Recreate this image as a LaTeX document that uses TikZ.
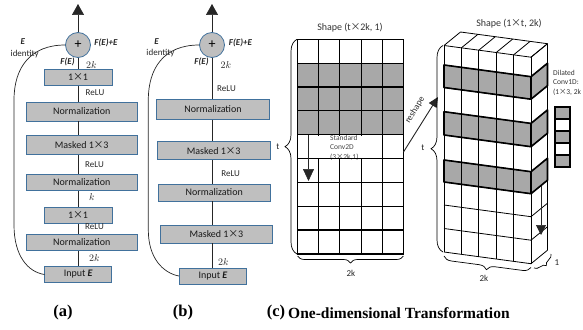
\documentclass[tikz,border=0pt]{standalone}
\usepackage{fontspec}
\newfontfamily\calfont{Carlito}
\newfontfamily\cjkfont{Noto Sans CJK SC}
\newfontfamily\capfont{Liberation Serif}
\usetikzlibrary{arrows.meta,decorations.pathreplacing,calc}
\definecolor{boxgray}{RGB}{191,191,191}
\definecolor{boxblue}{RGB}{65,113,156}
\definecolor{cgray}{RGB}{168,168,168}
\definecolor{txtgray}{RGB}{70,70,70}
\newcommand{\mx}{\makebox[0.95em]{\cjkfont ×}}
\tikzset{
 blk/.style={draw=boxblue, fill=boxgray, line width=0.7pt, inner sep=0pt, font=\calfont\fontsize{10}{12}\selectfont, text=black!90},
 plusnode/.style={circle, draw=boxblue, fill=boxgray, line width=0.8pt, minimum size=25pt, inner sep=0pt, font=\calfont\fontsize{14}{14}\selectfont},
 conn/.style={line width=0.7pt, draw=black!85},
 bigarrow/.style={conn, -{Triangle[width=12pt,length=11pt]}},
 lbl/.style={inner sep=0pt, font=\calfont\fontsize{9}{11}\selectfont, text=black!85},
 mlbl/.style={inner sep=0pt, font=\fontsize{10}{12}\selectfont, text=black!85},
 shapelbl/.style={inner sep=0pt, font=\calfont\fontsize{10}{12}\selectfont, text=black!80},
 smalltxt/.style={inner sep=0pt, font=\calfont\fontsize{7.5}{9.5}\selectfont, text=txtgray},
 gcolline/.style={line width=1pt},
 growline/.style={line width=1.2pt},
 gouterline/.style={line width=1.5pt},
 thinl/.style={line width=0.8pt},
 thickl/.style={line width=1.6pt},
 brc/.style={line width=0.7pt, decorate},
 capl/.style={inner sep=0pt, font=\capfont\bfseries\fontsize{16.5}{18}\selectfont},
 capt/.style={inner sep=0pt, font=\capfont\bfseries\fontsize{15.5}{18}\selectfont},
 dbox/.style={draw=black, line width=1.4pt, minimum width=15pt, minimum height=12pt, inner sep=0pt},
}
\begin{document}
\begin{tikzpicture}[x=1pt,y=-1pt]
\useasboundingbox (0,0) rectangle (583,329);

% ================= (a) =================
\node[plusnode] (ap) at (78,45) {+};
\coordinate (atip) at (78,4);
\draw[bigarrow] (ap.north) -- (atip);
\node[blk, minimum width=68pt, minimum height=16pt] (a1) at (78,77.5) {1\mx1};
\node[blk, minimum width=111pt, minimum height=19pt] (a2) at (81.7,111.5) {Normalization};
\node[blk, minimum width=111pt, minimum height=19pt] (a3) at (81.7,145) {Masked 1\mx3};
\node[blk, minimum width=111pt, minimum height=16.5pt] (a4) at (81.7,182.5) {Normalization};
\node[blk, minimum width=68pt, minimum height=16.5pt] (a5) at (78,215.5) {1\mx1};
\node[blk, minimum width=111pt, minimum height=16.5pt] (a6) at (81.7,242.5) {Normalization};
\node[blk, minimum width=67pt, minimum height=16.5pt] (a7) at (78.3,274.5) {Input \textbf{\textit{E}}};
\draw[conn] (ap.south) -- (a1.north -| ap);
\foreach \u/\v in {a1/a2,a2/a3,a3/a4,a4/a5,a5/a6,a6/a7}
  \draw[conn] (\u.south -| ap) -- (\v.north -| ap);
\draw[conn] (ap.west) .. controls (30,45) and (14,68) .. (14,100) -- (14,225)
  .. controls (14,256) and (28,272) .. (a7.west);
\node[lbl] (aE) at (23,42) {\textbf{\textit{E}}};
\node[lbl] (aid) at (24.7,54.5) {identity};
\node[lbl] (aFE) at (106,43.3) {\textbf{\textit{F(E)+E}}};
\node[lbl] (aF) at (67.5,61.7) {\textbf{\textit{F(E)}}};
\node[mlbl] (a2k) at (91.5,65) {$2k$};
\node[lbl] (ar1) at (95,93) {ReLU};
\node[lbl] (ar2) at (94.5,165) {ReLU};
\node[mlbl] (ak) at (92,197) {$k$};
\node[lbl] (ar3) at (94.5,227) {ReLU};
\node[mlbl] (a2kb) at (94.5,258) {$2k$};

% ================= (b) =================
\node[plusnode] (bp) at (212,45) {+};
\coordinate (btip) at (212,4);
\draw[bigarrow] (bp.north) -- (btip);
\node[blk, minimum width=112.6pt, minimum height=20pt] (b1) at (213,109.3) {Normalization};
\node[blk, minimum width=112.7pt, minimum height=18pt] (b2) at (213.7,150.8) {Masked 1\mx3};
\node[blk, minimum width=111.7pt, minimum height=17pt] (b3) at (214.2,192.5) {Normalization};
\node[blk, minimum width=112.7pt, minimum height=18pt] (b4) at (216.3,234) {Masked 1\mx3};
\node[blk, minimum width=67.4pt, minimum height=16pt] (b5) at (213,276) {Input \textbf{\textit{E}}};
\draw[conn] (bp.south) -- (b1.north -| bp);
\foreach \u/\v in {b1/b2,b2/b3,b3/b4,b4/b5}
  \draw[conn] (\u.south -| bp) -- (\v.north -| bp);
\draw[conn] (bp.west) .. controls (164,45) and (148.3,68) .. (148.3,100) -- (148.3,230)
  .. controls (148.3,258) and (163,273) .. (b5.west);
\node[lbl] (bE) at (156.7,41.7) {\textbf{\textit{E}}};
\node[lbl] (bid) at (160.5,53.5) {identity};
\node[lbl] (bFE) at (240.5,43.3) {\textbf{\textit{F(E)+E}}};
\node[lbl] (bF) at (201.5,61.7) {\textbf{\textit{F(E)}}};
\node[mlbl] (b2k) at (226,65) {$2k$};
\node[lbl] (br1) at (226.5,89) {ReLU};
\node[lbl] (br2) at (230.7,174) {ReLU};
\node[mlbl] (b2kb) at (223.3,261.7) {$2k$};

% ================= (c) left grid =================
\fill[cgray] (297.7,63.2) rectangle (403.3,134.7);
\foreach \i in {1,2,3,4}
  \draw[gcolline] ({297.7+21.12*\i},39.3) -- ({297.7+21.12*\i},254);
\fill[white] (312,135.6) rectangle (380,157.8);
\node[smalltxt, anchor=north west, align=left] (std) at (330,134.8) {Standard\\Conv2D\\(3\mx2k,1)};
\foreach \j in {1,...,8}
  \draw[growline] (297.7,{39.3+23.84*\j}) -- (403.3,{39.3+23.84*\j});
\draw[gouterline] (297.7,39.3) rectangle (403.3,254);
\coordinate (sa) at (308.5,134.7);
\coordinate (sb) at (308.5,181);
\draw[conn, -{Triangle[width=11pt,length=12pt]}] (sa) -- (sb);
\node[shapelbl] (shL) at (350,28) {Shape (t\mx2k, 1)};
\draw[brc, decoration={brace,amplitude=12pt,mirror}] (297,39.3) -- (297,254);
\node[lbl] (tL) at (278,147) {t};
\draw[brc, decoration={brace,amplitude=7pt,mirror}] (297.7,256) -- (403.3,256);
\node[lbl] (kL) at (351,273) {2k};

% reshape arrow
\coordinate (rsa) at (403.5,152);
\coordinate (rsb) at (438,97);
\draw[conn, line width=0.9pt, -{Triangle[width=9pt,length=10pt]}] (rsa) -- (rsb);
\node[lbl, rotate=58] (rsl) at (415,110) {reshape};

% ================= (c) right box =================
\foreach \a/\b in {65/87.5,111.7/135,160/182}
  \fill[cgray] (444,\a) -- (531,{\a+11.7}) -- (547.5,{\a-1.8}) -- (547.5,{\b-1.8}) -- (531,{\b+11.7}) -- (444,\b) -- cycle;
\foreach \i in {1,2,3,4}
  \draw[thinl] ({444+17.4*\i},{45.5+2.34*\i}) -- ({444+17.4*\i},{252+2.34*\i});
\foreach \i in {0,...,5}
  \draw[thinl] ({444+17.4*\i},{45.5+2.34*\i}) -- ++(16.5,-13.5);
\draw[thinl] (460.5,32) -- (547.5,43.7);
\foreach \r in {45.5,65,87.5,111.7,135,160,182,205,228.5,252}
  \draw[thinl] (444,\r) -- (531,{\r+11.7}) -- (547.5,{\r-1.8});
\draw[thinl] (444,45.5) -- (444,252);
\draw[thinl] (531,57.2) -- (531,263.7);
\draw[thinl] (547.5,43.7) -- (547.5,250.2);
\foreach \a/\b in {65/87.5,111.7/135,160/182}{
  \draw[thickl, line join=round] (444,\a) -- (531,{\a+11.7}) -- (547.5,{\a-1.8}) -- (547.5,{\b-1.8}) -- (531,{\b+11.7}) -- (444,\b) -- cycle;
  \draw[thickl] (531,{\a+11.7}) -- (531,{\b+11.7});
}
\coordinate (ra) at (541,186);
\coordinate (rb) at (541,235);
\draw[conn, -{Triangle[width=10pt,length=10pt]}] (ra) -- (rb);
\node[shapelbl] (shR) at (509,23.3) {Shape (1\mx t, 2k)};
\draw[brc, decoration={brace,amplitude=12pt,mirror}] (443,45.5) -- (443,252);
\node[lbl] (tR) at (423,148) {t};
\draw[brc, decoration={brace,amplitude=8pt,mirror}] (444,256) -- (531,267.5);
\node[lbl] (kR) at (484,278) {2k};
\draw[brc, decoration={brace,amplitude=6pt,mirror}] (534,268) -- (551,254);
\node[lbl] (oneR) at (557,263) {1};

% dilated conv stack
\node[smalltxt, anchor=north west, align=left, text=black!80] (dil) at (553,70) {Dilated\\Conv1D:\\(1\mx3, 2k};
\node[dbox, fill=cgray] (d1) at (562.5,113) {};
\node[dbox, fill=white] (d2) at (562.5,125) {};
\node[dbox, fill=cgray] (d3) at (562.5,137) {};
\node[dbox, fill=white] (d4) at (562.5,149) {};
\node[dbox, fill=cgray] (d5) at (562.5,161) {};

% captions
\node[capl] (ca) at (63,313) {(a)};
\node[capl] (cb) at (183,313) {(b)};
\node[capl] (cc) at (276,313) {(c)};
\node[capt, anchor=west] (ct) at (288,313.5) {One-dimensional Transformation};
\end{tikzpicture}
\end{document}
